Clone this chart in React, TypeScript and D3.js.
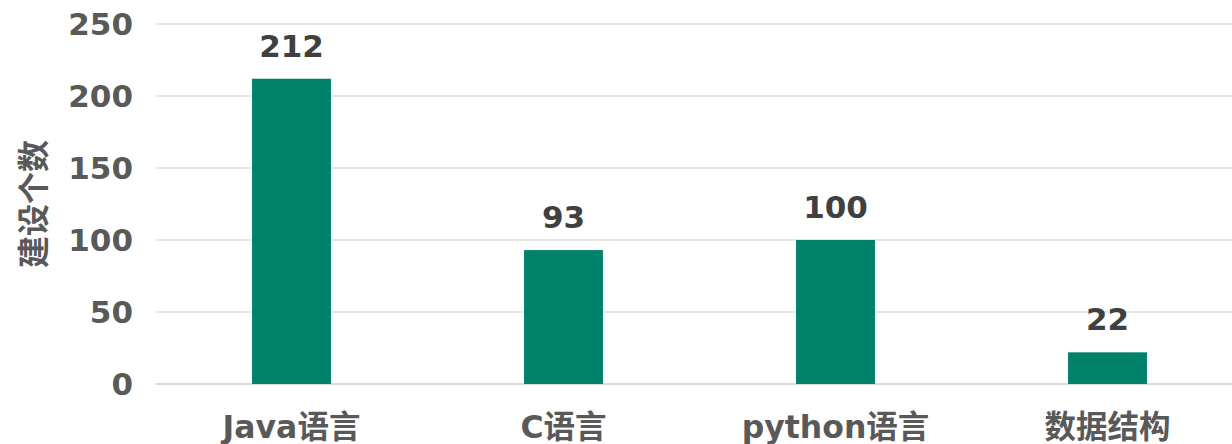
import { useRef, useEffect } from "react";
import * as d3 from "d3";

const categories = ["Java语言", "C语言", "python语言", "数据结构"];
const counts = [212, 93, 100, 22];
const yTicks = [0, 50, 100, 150, 200, 250];
const yTitle = "建设个数";

const W = 1232;
const H = 444;
const FONT = "'DejaVu Sans', 'Noto Sans CJK SC', sans-serif";

export default function App() {
  const svgRef = useRef<SVGSVGElement>(null);

  useEffect(() => {
    const svg = d3.select(svgRef.current);
    svg.selectAll("*").remove();

    // plot area: left edge of gridlines ~156, band step 272
    const x = d3
      .scaleBand()
      .domain(categories)
      .range([155.5, 155.5 + 272 * categories.length])
      .paddingInner(0.71)
      .paddingOuter(0.355);

    const y = d3.scaleLinear().domain([0, 250]).range([384, 24]);

    // gridlines
    svg
      .append("g")
      .selectAll("line")
      .data(yTicks)
      .join("line")
      .attr("x1", 156)
      .attr("x2", W)
      .attr("y1", (d) => y(d))
      .attr("y2", (d) => y(d))
      .attr("stroke", (d) => (d === 0 ? "#d9d9d9" : "#e6e6e6"))
      .attr("stroke-width", 2);

    // tick labels
    svg
      .append("g")
      .selectAll("text")
      .data(yTicks)
      .join("text")
      .attr("x", 133)
      .attr("y", (d) => y(d))
      .attr("dy", "0.36em")
      .attr("text-anchor", "end")
      .attr("font-family", FONT)
      .attr("font-weight", "bold")
      .attr("font-size", 31)
      .attr("fill", "#595959")
      .text((d) => d);

    // bars
    svg
      .append("g")
      .selectAll("rect")
      .data(counts)
      .join("rect")
      .attr("x", (_, i) => x(categories[i])!)
      .attr("width", x.bandwidth())
      .attr("y", (d) => y(d))
      .attr("height", (d) => y(0) - y(d))
      .attr("fill", "#00826a");

    // value labels
    svg
      .append("g")
      .selectAll("text")
      .data(counts)
      .join("text")
      .attr("x", (_, i) => x(categories[i])! + x.bandwidth() / 2)
      .attr("y", (d) => y(d) - 22)
      .attr("text-anchor", "middle")
      .attr("font-family", FONT)
      .attr("font-weight", "bold")
      .attr("font-size", 31)
      .attr("fill", "#404040")
      .text((d) => d);

    // category labels
    svg
      .append("g")
      .selectAll("text")
      .data(categories)
      .join("text")
      .attr("x", (d) => x(d)! + x.bandwidth() / 2)
      .attr("y", 438)
      .attr("text-anchor", "middle")
      .attr("font-family", FONT)
      .attr("font-weight", "bold")
      .attr("font-size", 31.5)
      .attr("fill", "#595959")
      .text((d) => d);

    // y axis title
    svg
      .append("text")
      .attr("transform", "translate(45,204) rotate(-90)")
      .attr("text-anchor", "middle")
      .attr("font-family", FONT)
      .attr("font-weight", "bold")
      .attr("font-size", 32)
      .attr("fill", "#595959")
      .text(yTitle);
  }, []);

  return (
    <svg
      ref={svgRef}
      width={W}
      height={H}
      style={{ position: "absolute", left: 0, top: 0, background: "#fff" }}
    />
  );
}
